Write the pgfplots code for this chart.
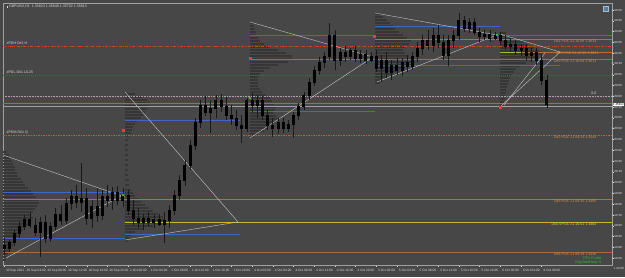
\documentclass[border=0pt]{standalone}
\usepackage{pgfplots}
\pgfplotsset{compat=1.18}
\usepackage{pgfplotstable}
\usepackage{fontspec}
\setmainfont{Liberation Sans}
\definecolor{bg}{HTML}{474747}
\definecolor{frame}{HTML}{A0A0A0}
\definecolor{lbl}{HTML}{D8D8D8}
\definecolor{prof}{HTML}{363636}
\definecolor{lblue}{HTML}{3F66C8}
\definecolor{lred}{HTML}{D4451F}
\definecolor{lorange}{HTML}{C06A30}
\definecolor{lbrown}{HTML}{B0663A}
\definecolor{lyellow}{HTML}{C8B820}
\definecolor{lgreen}{HTML}{2E7A2E}
\definecolor{tri}{HTML}{C8C8C8}
\definecolor{txtor}{HTML}{D89050}
\definecolor{dotgrey}{HTML}{A8A8A8}
\definecolor{thingrey}{HTML}{A0A0A0}
\definecolor{ygreen}{HTML}{9ABA40}
\definecolor{curr}{HTML}{E0522A}
\definecolor{mred}{HTML}{E04040}
\definecolor{mgreen}{HTML}{40C040}
\definecolor{vpoctxt}{HTML}{E8D840}
\definecolor{tpogreen}{HTML}{22CC22}
\definecolor{iconf}{HTML}{5F7F99}
\definecolor{icond}{HTML}{9FBFD9}

% candles: i = hour index, o h l c = price level read as chart row (smaller = higher price)
\pgfplotstableread{
i o h l c
0 245 238 255 248
1 248 240 252 242
2 242 230 246 233
3 233 222 238 226
4 226 215 230 219
5 219 212 228 225
6 225 218 236 232
7 232 217 257 222
8 222 215 243 238
9 238 222 242 226
10 226 208 230 214
11 214 205 225 220
12 220 198 224 203
13 203 190 210 196
14 196 185 208 202
15 202 163 212 198
16 198 188 225 218
17 218 200 228 206
18 206 188 222 215
19 215 190 220 196
20 196 185 207 200
21 200 187 210 192
22 192 186 205 200
23 200 188 207 195
24 195 190 215 210
25 210 200 225 218
26 218 208 228 222
27 222 214 230 218
28 218 212 226 222
29 222 215 228 219
30 219 214 226 224
31 224 212 243 220
32 220 205 228 210
33 210 190 215 195
34 195 175 200 180
35 180 160 186 165
36 165 140 170 145
37 145 118 150 122
38 122 100 128 105
39 105 96 116 112
40 112 100 133 108
41 108 95 118 100
42 100 94 112 106
43 106 97 120 115
44 115 105 125 118
45 118 110 130 125
46 125 115 143 128
47 128 98 132 100
48 100 93 112 105
49 105 95 118 100
50 100 96 120 115
51 115 110 130 125
52 125 118 137 128
53 128 118 134 122
54 122 118 133 128
55 128 120 132 124
56 124 112 138 115
57 115 103 120 106
58 106 92 110 95
59 95 78 100 82
60 82 66 86 70
61 70 57 75 62
62 62 52 68 56
63 56 23 60 35
64 35 30 70 60
65 60 48 66 52
66 52 46 62 56
67 56 48 60 50
68 50 46 62 58
69 58 50 63 54
70 54 50 64 60
71 60 52 62 56
72 56 50 72 68
73 68 55 82 60
74 60 52 78 72
75 72 60 80 65
76 65 58 75 70
77 70 58 76 62
78 62 55 72 66
79 66 52 70 56
80 56 42 62 48
81 48 35 55 40
82 40 30 50 45
83 45 28 52 35
84 35 25 48 42
85 42 35 60 55
86 55 35 66 40
87 40 30 48 35
88 35 13 40 20
89 20 16 32 28
90 28 18 33 22
91 22 18 35 32
92 32 28 42 36
93 36 30 40 34
94 34 30 42 38
95 38 32 40 35
96 35 32 45 40
97 40 35 50 46
98 46 38 52 44
99 44 40 55 50
100 50 44 56 48
101 48 45 60 55
102 55 48 62 52
103 52 48 65 60
104 60 55 85 80
105 80 75 108 104
}\candles

\pgfplotstableread{
y w
152 4
155 6
158 8
161 9
164 10
167 12
170 12
173 14
176 15
179 18
182 20
185 22
188 25
191 28
194 30
197 33
200 35
203 36
206 34
209 32
212 30
215 28
218 30
221 27
224 25
227 22
230 20
233 18
236 16
239 14
242 12
245 10
248 8
251 7
254 5
257 4
260 3
}\profA

\pgfplotstableread{
y w
94 10
97 18
100 22
103 25
106 24
109 22
112 20
115 18
118 16
121 12
124 10
127 8
130 7
133 6
136 4
140 3
145 3
150 3
155 3
160 3
165 3
170 3
175 3
180 4
185 4
190 6
193 8
196 10
199 14
202 16
205 20
208 24
211 28
214 33
217 38
220 40
223 36
226 28
229 18
232 10
235 6
238 4
241 3
}\profB

\pgfplotstableread{
y w
23 3
26 4
29 5
32 6
35 6
38 8
41 10
44 14
47 20
50 28
53 36
56 42
59 43
62 38
65 28
68 20
71 14
74 10
77 8
80 8
83 8
86 8
89 10
92 12
95 16
98 20
101 22
104 24
107 26
110 25
113 24
116 26
119 28
122 26
125 22
128 18
131 14
134 8
137 4
}\profC

\pgfplotstableread{
y w
14 5
17 8
20 12
23 15
26 18
29 20
32 24
35 28
38 32
41 36
44 34
47 30
50 28
53 30
56 34
59 38
62 40
65 36
68 30
71 24
74 18
77 12
80 8
83 5
}\profD

\pgfplotstableread{
y w
33 6
36 12
39 18
42 24
45 28
48 34
51 40
54 42
57 38
60 30
63 26
66 20
69 16
72 14
75 12
78 10
81 9
84 8
87 7
90 6
93 6
96 5
99 5
102 4
105 4
}\profE

\begin{document}
\begin{tikzpicture}[font=\fontsize{3.6}{4}\selectfont]
\fill[bg] (0,0) rectangle (625pt,277pt);
\begin{axis}[
  at={(3pt,12pt)}, anchor=south west,
  scale only axis, width=609pt, height=262pt,
  xmin=3, xmax=612, ymin=3, ymax=265, y dir=reverse,
  clip mode=individual,
  axis line style={draw=frame, line width=0.5pt},
  ytick pos=right, xtick pos=bottom,
  tick align=outside, major tick length=1.5pt,
  tick style={color=lbl, line width=0.4pt},
  ytick={10,20.79,31.58,42.37,53.16,63.95,74.74,85.53,96.32,107.11,117.90,128.69,139.48,150.27,161.06,171.85,182.64,193.43,204.22,215.01,225.80,236.59,247.38,258.17},
  yticklabels={1.36600,1.36500,1.36400,1.36300,1.36200,1.36100,1.36000,1.35900,1.35800,1.35700,1.35600,1.35500,1.35400,1.35300,1.35200,1.35100,1.35000,1.34900,1.34800,1.34700,1.34600,1.34500,1.34400,1.34300},
  yticklabel style={text=lbl, anchor=west, xshift=-2.5pt, inner sep=0.4pt, font=\fontsize{2.9}{3.2}\selectfont},
  xtick={4,24.68,45.36,66.04,86.72,107.4,128.08,148.76,169.44,190.12,210.8,231.48,252.16,272.84,293.52,314.2,334.88,355.56,376.24,396.92,417.6,438.28,458.96,479.64,500.32,521,541.68},
  xticklabels={30 Sep 2021,30 Sep 04:00,30 Sep 08:00,30 Sep 12:00,30 Sep 16:00,30 Sep 20:00,1 Oct 00:00,1 Oct 04:00,1 Oct 08:00,1 Oct 12:00,1 Oct 16:00,1 Oct 20:00,4 Oct 00:00,4 Oct 04:00,4 Oct 08:00,4 Oct 12:00,4 Oct 16:00,4 Oct 20:00,5 Oct 00:00,5 Oct 04:00,5 Oct 08:00,5 Oct 12:00,5 Oct 16:00,5 Oct 20:00,6 Oct 00:00,6 Oct 04:00,6 Oct 08:00},
  xticklabel style={text=lbl, anchor=north west, xshift=-1.5pt, yshift=1pt, font=\fontsize{3.2}{3.6}\selectfont},
]
% volume profiles (horizontal histograms starting at each session start)
\addplot[draw=none, mark=none, forget plot, error bars/.cd, x dir=plus, x explicit, error mark=none, error bar style={draw=prof, line width=2.2pt}] table[x expr=3, y=y, x error=w] {\profA};
\addplot[draw=none, mark=none, forget plot, error bars/.cd, x dir=plus, x explicit, error mark=none, error bar style={draw=prof, line width=2.2pt}] table[x expr=125, y=y, x error=w] {\profB};
\addplot[draw=none, mark=none, forget plot, error bars/.cd, x dir=plus, x explicit, error mark=none, error bar style={draw=prof, line width=2.2pt}] table[x expr=250, y=y, x error=w] {\profC};
\addplot[draw=none, mark=none, forget plot, error bars/.cd, x dir=plus, x explicit, error mark=none, error bar style={draw=prof, line width=2.2pt}] table[x expr=375, y=y, x error=w] {\profD};
\addplot[draw=none, mark=none, forget plot, error bars/.cd, x dir=plus, x explicit, error mark=none, error bar style={draw=prof, line width=2.2pt}] table[x expr=500, y=y, x error=w] {\profE};

% horizontal levels
\addplot[lred, line width=0.7pt, dash pattern=on 3pt off 1.5pt on 0.8pt off 1.5pt] coordinates {(3,46) (612,46)};
\addplot[lgreen, line width=0.5pt, dash pattern=on 1pt off 1pt] coordinates {(3,75) (612,75)};
\addplot[dotgrey, line width=0.8pt, dash pattern=on 0.8pt off 0.8pt] coordinates {(3,96) (612,96)};
\addplot[thingrey, line width=0.5pt] coordinates {(3,106.5) (612,106.5)};
\addplot[lbrown, line width=0.5pt, dash pattern=on 1.5pt off 1pt] coordinates {(3,135) (612,135)};
\addplot[lblue, line width=0.9pt] coordinates {(250,35) (375,35)};
\addplot[lblue, line width=0.9pt] coordinates {(375,26) (500,26)};
\addplot[lblue, line width=0.9pt] coordinates {(500,35) (612,35)};
\addplot[lorange, line width=0.7pt] coordinates {(375,39) (612,39)};
\addplot[lorange, line width=0.7pt] coordinates {(500,52) (612,52)};
\addplot[ygreen, line width=0.7pt] coordinates {(500,52) (522,52)};
\addplot[lbrown, line width=0.7pt] coordinates {(250,59) (612,59)};
\addplot[lblue, line width=0.9pt] coordinates {(375,65) (560,65)};
\addplot[lblue, line width=0.9pt] coordinates {(250,111) (375,111)};
\addplot[lblue, line width=0.9pt] coordinates {(125,120) (240,120)};
\addplot[lblue, line width=0.9pt] coordinates {(3,192) (125,192)};
\addplot[lorange, line width=0.7pt] coordinates {(3,199) (612,199)};
\addplot[lyellow, line width=0.8pt] coordinates {(125,222) (612,222)};
\addplot[lblue, line width=0.9pt] coordinates {(125,234) (240,234)};
\addplot[lblue, line width=0.9pt] coordinates {(3,238) (125,238)};
\addplot[lbrown, line width=0.7pt] coordinates {(3,252) (612,252)};
\addplot[curr, line width=1.4pt] coordinates {(3,103.5) (612,103.5)};

% triangles
\addplot[tri, line width=0.4pt] coordinates {(3,155) (125,197)};
\addplot[tri, line width=0.4pt] coordinates {(6,258) (123,195)};
\addplot[tri, line width=0.4pt] coordinates {(125,92) (238,222)};
\addplot[tri, line width=0.4pt] coordinates {(125,240) (238,222)};
\addplot[tri, line width=0.4pt] coordinates {(250,22) (373,57)};
\addplot[tri, line width=0.4pt] coordinates {(250,138) (373,57)};
\addplot[tri, line width=0.4pt] coordinates {(375,13) (497,35)};
\addplot[tri, line width=0.4pt] coordinates {(377,82) (497,35)};
\addplot[tri, line width=0.4pt] coordinates {(500,34) (560,52)};
\addplot[tri, line width=0.4pt] coordinates {(500,107) (560,52)};
\addplot[tri, line width=0.4pt] coordinates {(504,105) (545,53)};

% candles: wicks and bodies
\addplot[draw=none, mark=none, forget plot,
  error bars/.cd, y dir=both, y explicit, error mark=none,
  error bar style={draw=black!90, line width=0.7pt}]
  table[x expr=4+5.17*\thisrow{i}, y expr=(\thisrow{h}+\thisrow{l})/2, y error expr=(\thisrow{l}-\thisrow{h})/2] {\candles};
\addplot[draw=none, mark=none, forget plot,
  error bars/.cd, y dir=both, y explicit, error mark=none,
  error bar style={draw=black, line width=3pt}]
  table[x expr=4+5.17*\thisrow{i}, y expr=(\thisrow{o}+\thisrow{c})/2, y error expr=abs(\thisrow{o}-\thisrow{c})/2+0.5] {\candles};

% markers
\addplot[only marks, mark=square*, mark size=0.9pt, color=mred] coordinates {(123,130) (250,58) (374,36) (500,107)};
\addplot[only marks, mark=*, mark size=1pt, color=mgreen] coordinates {(497,35) (123,195) (250,98)};

% texts
\node[anchor=west, text=lbl] at (axis cs:3,6.5) {\rule{1.5pt}{1.5pt}\ GBPUSD,H1\ \ 1.35823 1.35848 1.35702 1.35813};
\node[anchor=west, text=lbl] at (axis cs:3,43.5) {\#PDH D\#1 H};
\node[anchor=west, text=lbl] at (axis cs:3,72.5) {\#PDL D\#1 L0.25};
\node[anchor=west, text=lbl] at (axis cs:3,132.5) {\#PDM D\#1 Q};
\node[anchor=east, text=lbl] at (axis cs:600,93) {0.0};
\node[anchor=east, text=txtor] at (axis cs:600,41.5) {D\#1 POC 21.10.06 1.3633};
\node[anchor=east, text=txtor] at (axis cs:602,53.5) {D\#5 POC 21.10.05 1.3621};
\node[anchor=east, text=txtor] at (axis cs:600,61.5) {D\#3 POC 21.10.04 1.3613};
\node[anchor=east, text=txtor] at (axis cs:600,137) {D\#2 POC 21.09.29 1.3544};
\node[anchor=east, text=txtor] at (axis cs:600,201) {D\#5 POC 21.09.30 1.3485};
\node[anchor=east, text=vpoctxt] at (axis cs:600,224.5) {D\#4 VPOC 21.10.01 1.3464};
\node[anchor=east, text=txtor] at (axis cs:600,254) {D\#6 POC 21.09.29 1.3436};
\node[anchor=east, text=tpogreen] at (axis cs:605,258.5) {TPO Profile};
\node[anchor=east, text=tpogreen] at (axis cs:605,263) {DayStartHour: 0};
\node[fill=iconf, draw=icond, line width=0.3pt, minimum size=5pt, inner sep=0pt] at (axis cs:606,8.5) {};
\node[anchor=west, text=lbl, inner sep=0.4pt, font=\fontsize{2.9}{3.2}\selectfont] at (axis cs:613,268.96) {1.34200};
\node[anchor=west, fill=white, text=black, inner sep=0.5pt, font=\fontsize{2.9}{3.2}\selectfont] at (axis cs:612.5,104.5) {1.35813};
\end{axis}
\pgfresetboundingbox
\useasboundingbox (0,0) rectangle (625pt,277pt);
\end{tikzpicture}
\end{document}
